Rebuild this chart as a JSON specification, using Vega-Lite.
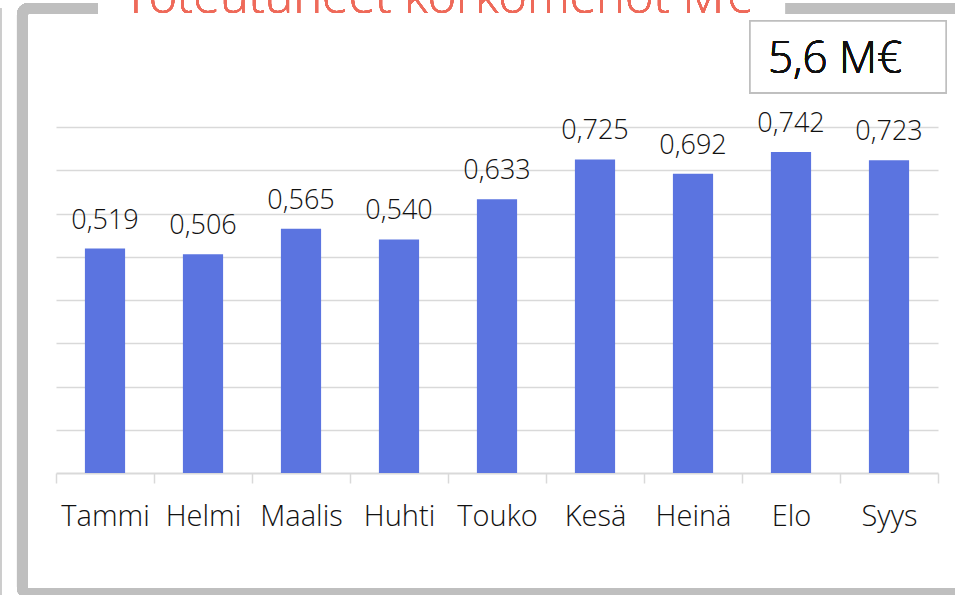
{
  "$schema": "https://vega.github.io/schema/vega-lite/v6.json",
  "width": 882,
  "height": 346,
  "autosize": {"type": "none"},
  "padding": {"left": 56, "top": 127, "right": 17, "bottom": 122},
  "background": "white",
  "config": {
    "locale": {"number": {"decimal": ",", "thousands": " ", "grouping": [3], "currency": ["", " €"]}},
    "view": {"stroke": null},
    "text": {"font": "Open Sans", "color": "#111111", "fontWeight": 300}
  },
  "data": {
    "values": [
      {"kuukausi": "Tammi", "arvo": 0.519},
      {"kuukausi": "Helmi", "arvo": 0.506},
      {"kuukausi": "Maalis", "arvo": 0.565},
      {"kuukausi": "Huhti", "arvo": 0.540},
      {"kuukausi": "Touko", "arvo": 0.633},
      {"kuukausi": "Kesä", "arvo": 0.725},
      {"kuukausi": "Heinä", "arvo": 0.692},
      {"kuukausi": "Elo", "arvo": 0.742},
      {"kuukausi": "Syys", "arvo": 0.723}
    ]
  },
  "layer": [
    {
      "mark": {"type": "bar", "color": "#5B74E0", "width": {"band": 0.41}},
      "encoding": {
        "x": {
          "field": "kuukausi",
          "type": "nominal",
          "scale": {
            "domain": ["Tammi", "Helmi", "Maalis", "Huhti", "Touko", "Kesä", "Heinä", "Elo", "Syys"],
            "paddingInner": 0,
            "paddingOuter": 0
          },
          "axis": {
            "title": null,
            "tickBand": "extent",
            "labelAngle": 0,
            "labelFont": "Open Sans",
            "labelFontSize": 29,
            "labelFontWeight": 300,
            "labelColor": "#111111",
            "labelBaseline": "alphabetic",
            "labelPadding": 42,
            "tickSize": 10,
            "tickColor": "#D9D9D9",
            "tickWidth": 1.5,
            "domainColor": "#D9D9D9",
            "domainWidth": 2,
            "grid": false
          }
        },
        "y": {
          "field": "arvo",
          "type": "quantitative",
          "scale": {"domain": [0, 0.8], "nice": false},
          "axis": {
            "title": null,
            "labels": false,
            "ticks": false,
            "domain": false,
            "grid": true,
            "gridColor": "#D9D9D9",
            "gridWidth": 1.5,
            "values": [0.1, 0.2, 0.3, 0.4, 0.5, 0.6, 0.7, 0.8]
          }
        }
      }
    },
    {
      "mark": {"type": "text", "baseline": "alphabetic", "dy": -20, "fontSize": 27},
      "encoding": {
        "x": {"field": "kuukausi", "type": "nominal"},
        "y": {"field": "arvo", "type": "quantitative"},
        "text": {"field": "arvo", "type": "quantitative", "format": ".3f"}
      }
    },
    {
      "mark": {"type": "rule", "stroke": "#CCCCCC", "strokeWidth": 1.5},
      "encoding": {
        "x": {"datum": "Tammi", "type": "nominal", "bandPosition": -0.564},
        "y": {"datum": 1.074, "type": "quantitative"},
        "y2": {"datum": -0.3}
      }
    },
    {
      "mark": {"type": "rect", "fill": null, "stroke": "#BFBFBF", "strokeWidth": 11, "cornerRadius": 6},
      "encoding": {
        "x": {"datum": "Tammi", "type": "nominal", "bandPosition": -0.342},
        "x2": {"datum": "Syys", "bandPosition": 1.5},
        "y": {"datum": 1.074, "type": "quantitative"},
        "y2": {"datum": -0.2786}
      }
    },
    {
      "mark": {"type": "rect", "fill": "white"},
      "encoding": {
        "x": {"datum": "Tammi", "type": "nominal", "bandPosition": 0.429},
        "x2": {"datum": "Syys", "bandPosition": -0.561},
        "y": {"datum": 1.1, "type": "quantitative"},
        "y2": {"datum": 1.05}
      }
    },
    {
      "mark": {"type": "text", "text": "Toteutuneet korkomenot M€", "align": "center", "baseline": "alphabetic", "fontSize": 48.5, "fontWeight": 300, "color": "#EE6A5A"},
      "encoding": {
        "x": {"datum": "Huhti", "type": "nominal", "bandPosition": 0.893},
        "y": {"datum": 1.0636, "type": "quantitative"}
      }
    },
    {
      "mark": {"type": "rect", "fill": "white", "stroke": "#BFBFBF", "strokeWidth": 1.5},
      "encoding": {
        "x": {"datum": "Elo", "type": "nominal", "bandPosition": 0.082},
        "x2": {"datum": "Syys", "bandPosition": 1.082},
        "y": {"datum": 1.045, "type": "quantitative"},
        "y2": {"datum": 0.879}
      }
    },
    {
      "mark": {"type": "text", "text": "5,6 M€", "align": "left", "baseline": "alphabetic", "fontSize": 44},
      "encoding": {
        "x": {"datum": "Elo", "type": "nominal", "bandPosition": 0.265},
        "y": {"datum": 0.9256, "type": "quantitative"}
      }
    }
  ]
}
